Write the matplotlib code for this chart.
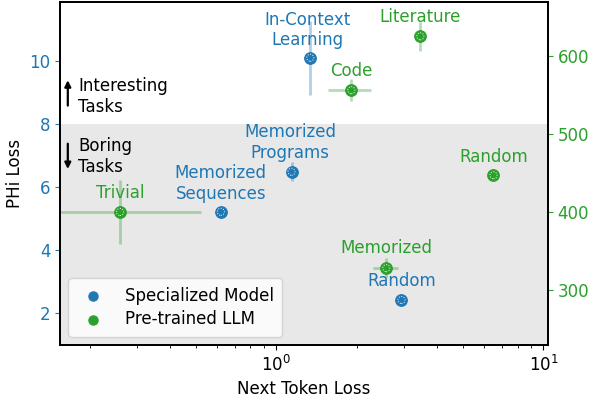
import numpy as np
import matplotlib
matplotlib.use('Agg')
import matplotlib.pyplot as plt

plt.rcParams['font.family'] = ['DejaVu Sans']
plt.rcParams['font.size'] = 12

BLUE = '#1f77b4'
GREEN = '#2ca02c'

# Specialized model (left axis, PHi loss)
spec_labels = ['In-Context\nLearning', 'Memorized\nPrograms', 'Memorized\nSequences', 'Random']
spec_x = [1.34, 1.14, 0.62, 2.94]
spec_y = [10.1, 6.48, 5.21, 2.41]
spec_xerr = [0.0, 0.0, 0.0, 0.0]
spec_yerr = [1.17, 0.3, 0.0, 0.0]

# Pre-trained LLM (right axis)
llm_labels = ['Literature', 'Code', 'Random', 'Trivial', 'Memorized']
llm_x = [3.46, 1.91, 6.5, 0.26, 2.58]
llm_y = [625, 556, 447, 400, 328]
llm_xerr = [0.0, 0.35, 0.0, 0.264, 0.28]
llm_yerr = [18.5, 14, 0.0, 41, 13]


def draw_points(ax, x, y, color, label):
    ax.scatter(x, y, s=70, c=color, edgecolors=color, linewidths=0.8, zorder=4, label=label)
    ax.scatter(x, y, s=26, facecolors='none', edgecolors='white', linewidths=0.7,
               linestyles=':', zorder=5)


fig = plt.figure(figsize=(5.94, 3.98), dpi=100)
ax = fig.add_axes([0.101, 0.133, 0.8216, 0.862])
ax2 = ax.twinx()

ax.set_xscale('log')
ax.set_xlim(0.155, 10.4)
ax.set_ylim(0.98, 11.87)
ax2.set_ylim(229.5, 669)

ax.axhspan(0.0, 8.0, color='#e8e8e8', zorder=0, lw=0)

# error bars
ax.errorbar(spec_x, spec_y, xerr=spec_xerr, yerr=spec_yerr, fmt='none',
            ecolor=BLUE, alpha=0.35, elinewidth=2, capsize=0, zorder=2)
ax2.errorbar(llm_x, llm_y, xerr=llm_xerr, yerr=llm_yerr, fmt='none',
             ecolor=GREEN, alpha=0.35, elinewidth=2, capsize=0, zorder=2)

draw_points(ax, spec_x, spec_y, BLUE, 'Specialized Model')
draw_points(ax2, llm_x, llm_y, GREEN, 'Pre-trained LLM')

spec_off = [(-2, 6), (-1, 7), (0, 6.5), (0, 7)]
for lab, x, y, off in zip(spec_labels, spec_x, spec_y, spec_off):
    ax.annotate(lab, (x, y), xytext=off, textcoords='offset points',
                ha='center', va='bottom', color=BLUE)

llm_off = [(0, 7.5), (0, 7), (0, 7), (0, 7.5), (0, 8)]
for lab, x, y, off in zip(llm_labels, llm_x, llm_y, llm_off):
    ax2.annotate(lab, (x, y), xytext=off, textcoords='offset points',
                 ha='center', va='bottom', color=GREEN)

# interesting / boring annotations
ax.annotate('', xy=(0.016, 0.78), xytext=(0.016, 0.69), xycoords='axes fraction',
            arrowprops=dict(arrowstyle='-|>', color='black', lw=1.6, mutation_scale=9))
ax.text(0.037, 0.725, 'Interesting\nTasks', transform=ax.transAxes, ha='left', va='center')
ax.annotate('', xy=(0.016, 0.505), xytext=(0.016, 0.595), xycoords='axes fraction',
            arrowprops=dict(arrowstyle='-|>', color='black', lw=1.6, mutation_scale=9))
ax.text(0.037, 0.55, 'Boring\nTasks', transform=ax.transAxes, ha='left', va='center')

ax.set_xlabel('Next Token Loss')
ax.set_ylabel('PHi Loss')
ax.tick_params(axis='y', colors=BLUE)
ax2.tick_params(axis='y', colors=GREEN)
ax.yaxis.label.set_color('black')
ax.set_yticks([2, 4, 6, 8, 10])
ax2.set_yticks([300, 400, 500, 600])
for sp in list(ax.spines.values()) + list(ax2.spines.values()):
    sp.set_color('black')
    sp.set_linewidth(1.3)

h1, l1 = ax.get_legend_handles_labels()
h2, l2 = ax2.get_legend_handles_labels()
ax2.legend(h1 + h2, l1 + l2, loc='lower left', handletextpad=0.9, markerscale=0.8,
           borderpad=0.5, framealpha=0.8, labelspacing=0.35)

fig.savefig('out.png', dpi=100)
